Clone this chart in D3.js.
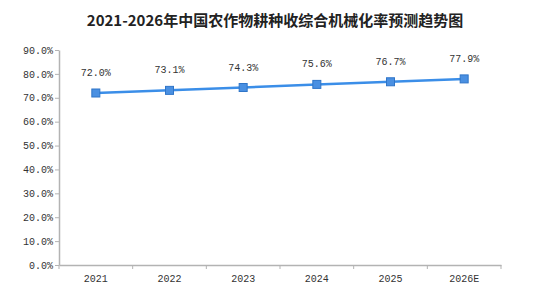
<!DOCTYPE html>
<html>
<head>
<meta charset="utf-8">
<script src="https://cdn.jsdelivr.net/npm/d3@7"></script>
<style>
body{margin:0;background:#fff;}
svg{display:block;}
</style>
</head>
<body>
<script>
var years=['2021','2022','2023','2024','2025','2026E'];
var rates=[72.0,73.1,74.3,75.6,76.7,77.9];
var yTicks=[0,10,20,30,40,50,60,70,80,90];
var title='2021-2026年中国农作物耕种收综合机械化率预测趋势图';

var width=533,height=297;
var plotLeft=59,plotRight=501,plotTop=50,plotBottom=265;

var svg=d3.select('body').append('svg')
.attr('width',width)
.attr('height',height);

svg.append('text')
.attr('x',275)
.attr('y',26)
.attr('text-anchor','middle')
.style('font-family','"Noto Sans CJK SC", sans-serif')
.style('font-weight','bold')
.style('font-size','15px')
.style('fill','#222')
.text(title);

var xScale=d3.scaleBand()
.domain(years)
.range([plotLeft,plotRight]);

var yScale=d3.scaleLinear()
.domain([0,90])
.range([plotBottom,plotTop]);

var yAxis=d3.axisLeft(yScale)
.tickValues(yTicks)
.tickFormat(d=>d3.format('.1f')(d)+'%')
.tickSizeInner(4)
.tickSizeOuter(0);

var xAxis=d3.axisBottom(xScale)
.tickSizeOuter(0)
.tickSize(0);

var gy=svg.append('g')
.attr('transform','translate('+plotLeft+',0)')
.call(yAxis);

var gx=svg.append('g')
.attr('transform','translate(0,'+plotBottom+')')
.call(xAxis);

// band boundary ticks on x axis
var bounds=years.map(d=>xScale(d)).concat([xScale.range()[1]]);
svg.selectAll('.xb')
.data(bounds)
.enter()
.append('line')
.attr('x1',d=>d)
.attr('x2',d=>d)
.attr('y1',plotBottom)
.attr('y2',plotBottom+4)
.attr('stroke','#b3b3b3');

[gx,gy].forEach(function(g){
    g.select('.domain').attr('stroke','#b3b3b3').attr('stroke-width',1.5);
    g.selectAll('.tick line').attr('stroke','#b3b3b3');
    g.selectAll('.tick text')
    .style('font-family','"Liberation Mono", monospace')
    .style('font-size','10px')
    .style('fill','#333');
});
gy.selectAll('.tick text').attr('x',-6);
gx.selectAll('.tick text').attr('y',10);

var line=d3.line()
.x((d,i)=>xScale(years[i])+xScale.bandwidth()/2)
.y(d=>yScale(d));

svg.append('path')
.datum(rates)
.attr('d',line)
.attr('fill','none')
.attr('stroke','#3b8ee8')
.attr('stroke-width',2.5);

svg.selectAll('.pt')
.data(rates)
.enter()
.append('rect')
.attr('x',(d,i)=>xScale(years[i])+xScale.bandwidth()/2-4)
.attr('y',d=>yScale(d)-4)
.attr('width',8)
.attr('height',8)
.attr('fill','#4a90e2')
.attr('stroke','#2f75c8')
.attr('stroke-width',1);

svg.selectAll('.lbl')
.data(rates)
.enter()
.append('text')
.attr('x',(d,i)=>xScale(years[i])+xScale.bandwidth()/2)
.attr('y',d=>yScale(d)-17)
.attr('text-anchor','middle')
.style('font-family','"Liberation Mono", monospace')
.style('font-size','10px')
.style('fill','#333')
.text(d=>d3.format('.1f')(d)+'%');
</script>
</body>
</html>
